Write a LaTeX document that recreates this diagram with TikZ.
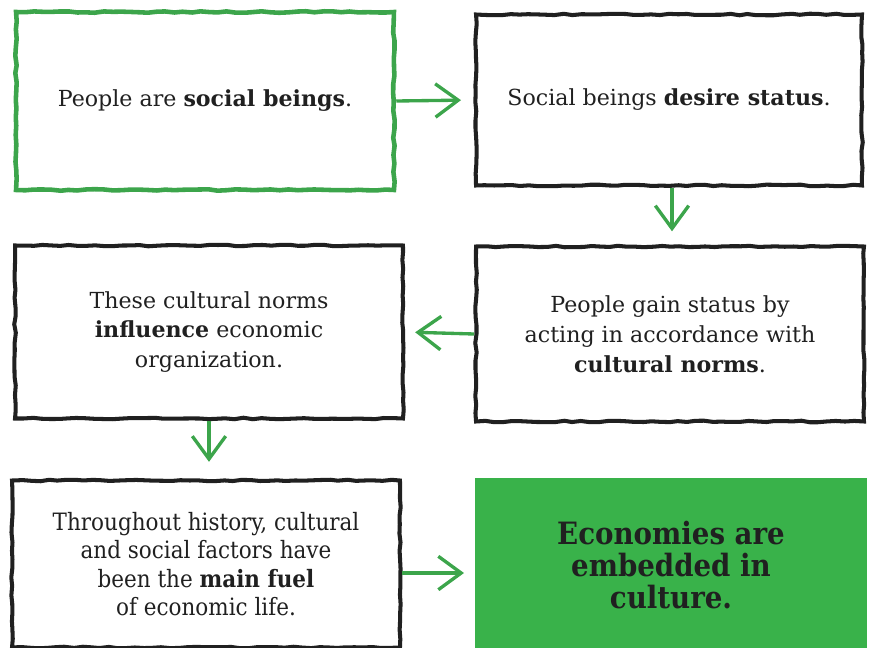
\documentclass[tikz,border=0pt]{standalone}
\usepackage{fontspec}
\setmainfont{DejaVu Serif}
\newfontfamily\condfont{DejaVu Serif Condensed}
\usetikzlibrary{arrows.meta,decorations.pathmorphing}
\definecolor{leafgreen}{RGB}{60,165,75}
\definecolor{boxgreen}{RGB}{57,178,74}
\definecolor{inkblack}{RGB}{32,32,32}
\begin{document}
\begin{tikzpicture}[x=0.02cm,y=-0.02cm,
    sketchbox/.style={draw=inkblack, line width=2.3pt, align=center, inner sep=0pt,
        font=\fontsize{12.6}{17}\selectfont, text=inkblack,
        decorate, decoration={random steps, segment length=5pt, amplitude=0.45pt}},
    flowarrow/.style={draw=leafgreen, line width=1.9pt, -{Straight Barb[length=13pt,width=19pt,line width=1.9pt]}}]
    \useasboundingbox (0,0) rectangle (871,648);

    % first row
    \node[sketchbox, draw=leafgreen, line width=2.6pt, minimum width=7.56cm, minimum height=3.56cm] (beings) at (205,101) {People are \textbf{social beings}.};
    \node[sketchbox, minimum width=7.72cm, minimum height=3.42cm] (status) at (669,100) {Social beings \textbf{desire status}.};

    % second row
    \node[sketchbox, minimum width=7.76cm, minimum height=3.5cm] (norms) at (670,334) {People gain status by\\acting in accordance with\\\textbf{cultural norms}.};
    \node[sketchbox, minimum width=7.76cm, minimum height=3.46cm] (influence) at (209,332) {These cultural norms\\\textbf{influence} economic\\organization.};

    % third row
    \node[sketchbox, font=\condfont\fontsize{13.6}{16.2}\selectfont, minimum width=7.76cm, minimum height=3.34cm] (history) at (206,564) {Throughout history, cultural\\and social factors have\\been the \textbf{main fuel}\\of economic life.};
    \node[fill=boxgreen, minimum width=7.86cm, minimum height=3.5cm, align=center, inner sep=0pt,
        text=inkblack, font=\condfont\bfseries\fontsize{17.5}{18.4}\selectfont] (culture) at (671,565) {Economies are\\embedded in\\culture.};

    \draw[flowarrow, shorten >=7.4pt] (beings.east) -- (status.west);
    \draw[flowarrow, shorten >=7.5pt] (status.south) ++(3,0) coordinate (statusfoot) -- (statusfoot |- norms.north);
    \draw[flowarrow, shorten >=5.8pt] (norms.west) -- (influence.east);
    \draw[flowarrow, shorten >=9.5pt] (influence.south) -- (influence.south |- history.north);
    \draw[flowarrow, shorten >=5.8pt] (history.east) ++(0,9) coordinate (historyside) -- (historyside -| culture.west);
\end{tikzpicture}
\end{document}
